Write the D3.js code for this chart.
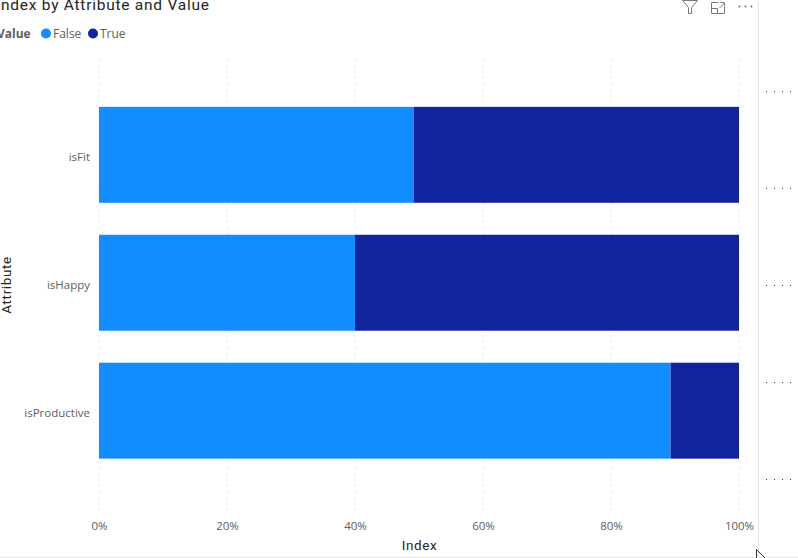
<!DOCTYPE html>
<html>
<head>
<meta charset="utf-8">
<script src="https://cdn.jsdelivr.net/npm/d3@7"></script>
<style>
  html, body { margin: 0; padding: 0; background: #fff; overflow: hidden; }
  svg { display: block; }
  text { font-family: "Open Sans", "Noto Sans", sans-serif; }
</style>
</head>
<body>
<svg id="chart" width="798" height="558"></svg>
<script>
// Values
const attributes = ['isFit', 'isHappy', 'isProductive'];
const falseShare = [0.492, 0.40, 0.893];
const trueShare = [0.508, 0.60, 0.107];
const valueNames = ['False', 'True'];
const xTicks = [0, 0.2, 0.4, 0.6, 0.8, 1];

const colors = d3.scaleOrdinal().domain(valueNames).range(['#118DFF', '#12239E']);

const svg = d3.select('#chart');

const x = d3.scaleLinear().domain([0, 1]).range([99, 739]);
const y = d3.scaleBand().domain(attributes).range([58.5, 507]).paddingInner(0.25).paddingOuter(0.378);

// gridlines first, the bars sit on top
svg.append('g')
  .selectAll('line')
  .data(xTicks)
  .join('line')
  .attr('x1', d => x(d))
  .attr('x2', d => x(d))
  .attr('y1', 59)
  .attr('y2', 515)
  .attr('stroke', '#d9d9d9')
  .attr('stroke-width', 1)
  .attr('stroke-dasharray', '1.5 4.5');

// stacked bars
const rows = attributes.map((a, i) => ({ attribute: a, False: falseShare[i], True: trueShare[i] }));
const stacked = d3.stack().keys(valueNames)(rows);

svg.append('g')
  .selectAll('g')
  .data(stacked)
  .join('g')
  .attr('fill', d => colors(d.key))
  .selectAll('rect')
  .data(d => d)
  .join('rect')
  .attr('x', d => x(d[0]))
  .attr('y', d => y(d.data.attribute))
  .attr('width', d => x(d[1]) - x(d[0]))
  .attr('height', y.bandwidth());

// x axis
const xAxis = svg.append('g')
  .attr('transform', 'translate(0,526)')
  .call(d3.axisBottom(x).tickValues(xTicks).tickFormat(d3.format('.0%')).tickSize(0).tickPadding(0));
xAxis.select('.domain').remove();
xAxis.selectAll('text')
  .attr('dy', '0.32em')
  .attr('font-size', 11.5)
  .attr('font-family', '"Open Sans", sans-serif')
  .attr('fill', '#605E5C');

// y axis, labels sit a little under the band centre in the reference
const yAxis = svg.append('g')
  .attr('transform', 'translate(90,2.5)')
  .call(d3.axisLeft(y).tickSize(0).tickPadding(0));
yAxis.select('.domain').remove();
yAxis.selectAll('text')
  .attr('font-size', 11.5)
  .attr('font-family', '"Open Sans", sans-serif')
  .attr('fill', '#605E5C');

// axis titles
svg.append('text')
  .attr('x', 419.5)
  .attr('y', 550)
  .attr('text-anchor', 'middle')
  .attr('font-size', 13.5)
  .style('font-family', 'Roboto, sans-serif')
  .attr('letter-spacing', 0.6)
  .attr('fill', '#252423')
  .text('Index');

svg.append('text')
  .attr('transform', 'translate(11,285) rotate(-90)')
  .attr('text-anchor', 'middle')
  .attr('font-size', 13.5)
  .style('font-family', 'Roboto, sans-serif')
  .attr('letter-spacing', 0.6)
  .attr('fill', '#252423')
  .text('Attribute');

// title, cut off by the left edge in the reference
svg.append('text')
  .attr('x', -4)
  .attr('y', 10)
  .attr('font-size', 15.5)
  .style('font-family', 'Roboto, sans-serif')
  .attr('letter-spacing', 0.75)
  .attr('fill', '#252423')
  .text('Index by Attribute and Value');

// legend
svg.append('text')
  .attr('x', -3)
  .attr('y', 38)
  .attr('font-size', 12)
  .attr('font-weight', 700)
  .attr('fill', '#605E5C')
  .text('Value');

const legendX = d3.scaleOrdinal().domain(valueNames).range([46, 93]);
const legend = svg.append('g')
  .selectAll('g')
  .data(valueNames)
  .join('g')
  .attr('transform', d => `translate(${legendX(d)},33.5)`);
legend.append('circle')
  .attr('r', 5)
  .attr('fill', d => colors(d));
legend.append('text')
  .attr('x', 7)
  .attr('y', 4.5)
  .attr('font-size', 12)
  .attr('fill', '#605E5C')
  .text(d => d);

// header icons
const icons = svg.append('g')
  .attr('fill', 'none')
  .attr('stroke', '#7a7a7a')
  .attr('stroke-width', 1);
icons.append('path').attr('d', 'M682.5 0.5H697.5L691.5 7.5V13.5H688.5V7.5Z');
icons.append('path').attr('d', 'M718.5 2.5H711.5V13.5H724.5V6.5M711.5 8.5H717.5V13.5M719.5 8L724 3.5M720.5 2.5H724.5V6');
svg.append('g')
  .selectAll('circle')
  .data([739.5, 745.5, 751.5])
  .join('circle')
  .attr('cx', d => d)
  .attr('cy', 6.5)
  .attr('r', 1)
  .attr('fill', '#6f6f6f');

// page edges to the right and bottom of the visual
svg.append('line').attr('x1', 758.5).attr('x2', 758.5).attr('y1', 0).attr('y2', 557)
  .attr('stroke', '#e6e6e6');
svg.append('line').attr('x1', 0).attr('x2', 798).attr('y1', 557.5).attr('y2', 557.5)
  .attr('stroke', '#e6e6e6');

// dotted rows in the neighbouring visual
const sideRows = [91, 188, 285, 382, 479];
const sideCols = [766, 774, 782, 790];
svg.append('g')
  .selectAll('g')
  .data(sideRows)
  .join('g')
  .selectAll('rect')
  .data(r => sideCols.map(c => [c, r]))
  .join('rect')
  .attr('x', d => d[0])
  .attr('y', d => d[1])
  .attr('width', 1)
  .attr('height', 1)
  .attr('fill', '#333');

// mouse pointer left in the screenshot
svg.append('path')
  .attr('d', 'M756.5 549.5V558M756.5 549.5L765 558')
  .attr('fill', 'none')
  .attr('stroke', '#333');
</script>
</body>
</html>
